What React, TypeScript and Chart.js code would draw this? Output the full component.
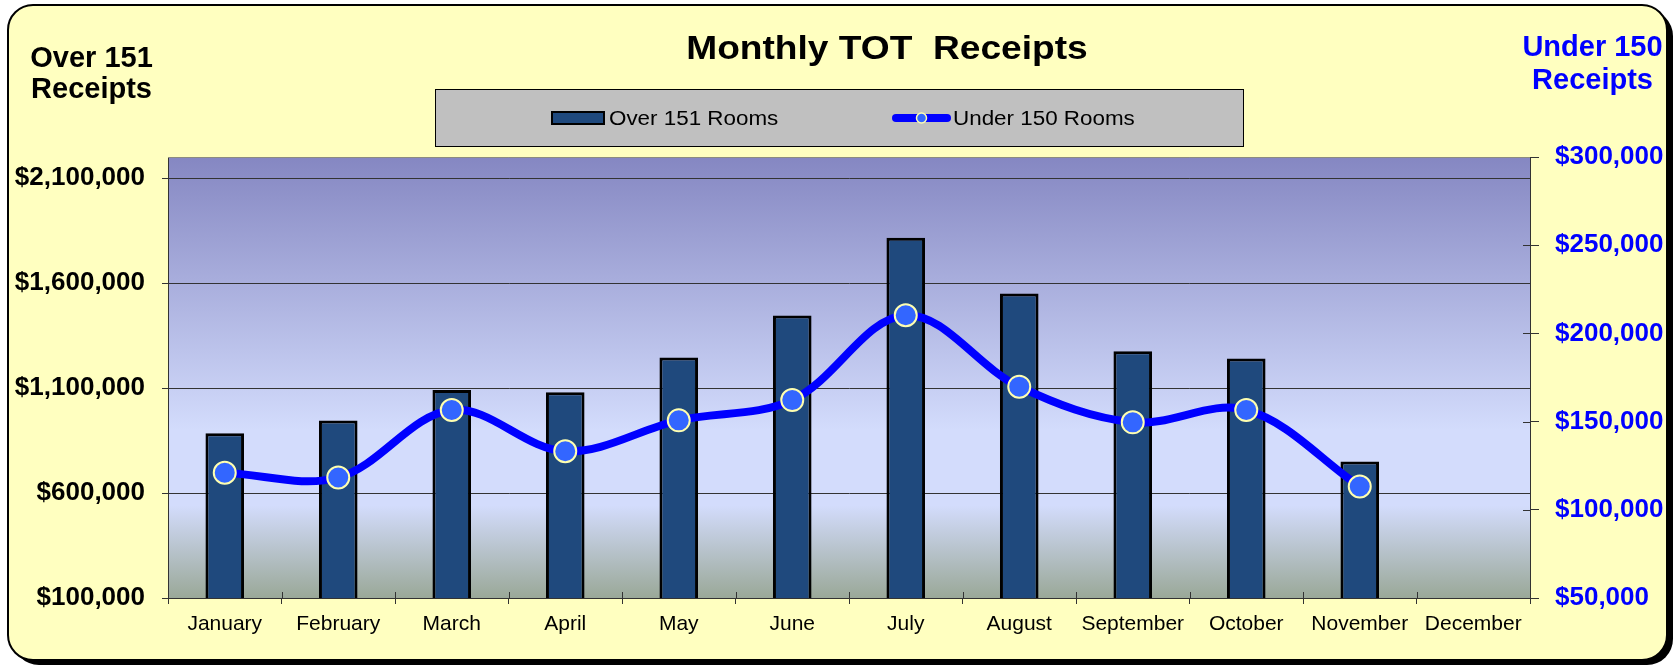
import React, { useEffect, useRef } from 'react';
import { Chart, registerables } from 'chart.js';

Chart.register(...registerables);

const months = ['January', 'February', 'March', 'April', 'May', 'June', 'July', 'August', 'September', 'October', 'November', 'December'];
const over151Receipts = [885000, 945000, 1090000, 1080000, 1245000, 1445000, 1815000, 1550000, 1275000, 1240000, 750000, null];
const under150Receipts = [121000, 118300, 156600, 133200, 150700, 162200, 210300, 169800, 149600, 156600, 113200, null];
const leftTicks = [100000, 600000, 1100000, 1600000, 2100000];
const leftRange = [100000, 2200000];
const rightRange = [50000, 300000];
const rightStep = 50000;
const seriesLabels = ['Over 151 Rooms', 'Under 150 Rooms'];
const chartTitle = 'Monthly TOT  Receipts';
const leftAxisTitle = ['Over 151', 'Receipts'];
const rightAxisTitle = ['Under 150', 'Receipts'];

const FONT = '"Liberation Sans", Arial, Helvetica, sans-serif';
const W = 1677;
const H = 666;

function drawText(ctx: CanvasRenderingContext2D, text: string, x: number, y: number, font: string, color: string, align: CanvasTextAlign, sx = 1) {
  ctx.save();
  ctx.translate(x, y);
  ctx.scale(sx, 1);
  ctx.font = font;
  ctx.fillStyle = color;
  ctx.textAlign = align;
  ctx.textBaseline = 'alphabetic';
  ctx.fillText(text, 0, 0);
  ctx.restore();
}

const fmt = (v: number) => '$' + Number(v).toLocaleString('en-US');

const decorPlugin = {
  id: 'decor',
  beforeDraw(chart: any) {
    const ctx: CanvasRenderingContext2D = chart.ctx;
    const { left, right, top, bottom } = chart.chartArea;
    ctx.save();
    // frame shadow
    ctx.fillStyle = '#000';
    ctx.beginPath();
    (ctx as any).roundRect(13, 10, 1660, 655, 26);
    ctx.fill();
    // frame
    ctx.beginPath();
    (ctx as any).roundRect(8, 5, 1659, 655, 25);
    ctx.fillStyle = '#FFFFC0';
    ctx.fill();
    ctx.lineWidth = 2;
    ctx.strokeStyle = '#000';
    ctx.stroke();

    // plot area gradient
    const g = ctx.createLinearGradient(0, top, 0, bottom);
    g.addColorStop(0, '#8587C2');
    g.addColorStop(0.62, '#D3DCFC');
    g.addColorStop(0.79, '#D3DCFC');
    g.addColorStop(1, '#9AA898');
    ctx.fillStyle = g;
    ctx.fillRect(left, top, right - left, bottom - top);

    // legend box
    ctx.fillStyle = '#C0C0C0';
    ctx.fillRect(435, 89, 808, 57);
    ctx.lineWidth = 1;
    ctx.strokeStyle = '#000';
    ctx.strokeRect(435.5, 89.5, 808, 57);

    const ds = chart.data.datasets;
    const barDs = ds[0];
    const lineDs = ds[1];
    // bar swatch
    ctx.fillStyle = barDs.backgroundColor;
    ctx.fillRect(552, 112, 52, 12);
    ctx.lineWidth = 2;
    ctx.strokeStyle = '#000';
    ctx.strokeRect(552, 112, 52, 12);
    drawText(ctx, barDs.label, 609, 124.5, `20px ${FONT}`, '#000', 'left', 1.12);
    // line swatch
    ctx.beginPath();
    ctx.lineCap = 'round';
    ctx.lineWidth = 8;
    ctx.strokeStyle = lineDs.borderColor;
    ctx.moveTo(896, 118);
    ctx.lineTo(947, 118);
    ctx.stroke();
    ctx.beginPath();
    ctx.arc(921.5, 118, 5, 0, Math.PI * 2);
    ctx.fillStyle = lineDs.pointBackgroundColor;
    ctx.fill();
    ctx.lineWidth = 1.5;
    ctx.strokeStyle = lineDs.pointBorderColor;
    ctx.stroke();
    drawText(ctx, lineDs.label, 953, 124.5, `20px ${FONT}`, '#000', 'left', 1.12);

    // titles
    drawText(ctx, chartTitle, 887, 59, `bold 33px ${FONT}`, '#000', 'center', 1.125);
    drawText(ctx, leftAxisTitle[0], 91.5, 67, `bold 29px ${FONT}`, '#000', 'center');
    drawText(ctx, leftAxisTitle[1], 91.5, 98, `bold 29px ${FONT}`, '#000', 'center');
    drawText(ctx, rightAxisTitle[0], 1592.5, 56, `bold 29px ${FONT}`, '#0000FF', 'center');
    drawText(ctx, rightAxisTitle[1], 1592.5, 89, `bold 29px ${FONT}`, '#0000FF', 'center');
    ctx.restore();
  },
  afterDraw(chart: any) {
    const ctx: CanvasRenderingContext2D = chart.ctx;
    const { left, right, top, bottom } = chart.chartArea;
    const xs = chart.scales.x;
    const y1 = chart.scales.y1;
    ctx.save();
    ctx.strokeStyle = '#333';
    ctx.lineWidth = 1;
    // inner half of x-axis cross ticks
    const n = months.length;
    for (let i = 0; i <= n; i++) {
      let px;
      if (i === 0) px = left;
      else if (i === n) px = right;
      else px = (xs.getPixelForValue(i - 1) + xs.getPixelForValue(i)) / 2;
      px = Math.round(px) + 0.5;
      ctx.beginPath();
      ctx.moveTo(px, bottom - 6);
      ctx.lineTo(px, bottom);
      ctx.stroke();
    }
    // inner half of right-axis cross ticks
    y1.ticks.forEach((t: any) => {
      const py = Math.round(y1.getPixelForValue(t.value)) + 0.5;
      ctx.beginPath();
      ctx.moveTo(right - 7, py);
      ctx.lineTo(right, py);
      ctx.stroke();
    });
    // top edge of plot area
    ctx.strokeStyle = '#8C8C80';
    ctx.beginPath();
    ctx.moveTo(left, top + 0.5);
    ctx.lineTo(right, top + 0.5);
    ctx.stroke();
    ctx.restore();
  },
};

export default function App() {
  const ref = useRef<HTMLCanvasElement | null>(null);

  useEffect(() => {
    if (!ref.current) return;
    const chart = new Chart(ref.current, {
      type: 'bar',
      data: {
        labels: months,
        datasets: [
          {
            type: 'bar',
            label: seriesLabels[0],
            data: over151Receipts,
            backgroundColor: '#1F497D',
            borderColor: '#000000',
            borderWidth: 3,
            borderSkipped: false,
            barPercentage: 0.34,
            categoryPercentage: 1,
            yAxisID: 'y',
            order: 2,
          } as any,
          {
            type: 'line',
            label: seriesLabels[1],
            data: under150Receipts,
            borderColor: '#0000FF',
            borderWidth: 8,
            tension: 0.35,
            pointRadius: 11,
            pointHoverRadius: 11,
            pointBackgroundColor: '#3366FF',
            pointBorderColor: '#FFFFB0',
            pointBorderWidth: 2,
            yAxisID: 'y1',
            order: 1,
          } as any,
        ],
      },
      options: {
        responsive: false,
        animation: false,
        devicePixelRatio: 1,
        layout: { padding: { top: 157, left: 0, right: 0, bottom: 0 } },
        plugins: {
          legend: { display: false },
          title: { display: false },
          tooltip: { enabled: false },
        },
        scales: {
          x: {
            offset: true,
            grid: { offset: true, drawOnChartArea: false, drawTicks: true, tickLength: 6, color: '#333' },
            border: { display: true, color: '#333', width: 1 },
            ticks: { color: '#000', font: { family: FONT, size: 21 }, padding: 8, maxRotation: 0, autoSkip: false },
            afterFit: (s: any) => { s.height = 68; },
          },
          y: {
            position: 'left',
            min: leftRange[0],
            max: leftRange[1],
            afterBuildTicks: (axis: any) => { axis.ticks = leftTicks.map((v) => ({ value: v })); },
            grid: { color: '#333', lineWidth: 1, tickLength: 6, drawTicks: true },
            border: { display: true, color: '#333', width: 1 },
            ticks: { color: '#000', font: { family: FONT, size: 26, weight: 'bold' }, padding: 17, callback: (v: any) => fmt(v) },
            afterFit: (s: any) => { s.width = 168; },
          },
          y1: {
            position: 'right',
            min: rightRange[0],
            max: rightRange[1],
            ticks: { stepSize: rightStep, color: '#0000FF', font: { family: FONT, size: 26, weight: 'bold' }, padding: 16, callback: (v: any) => fmt(v) },
            grid: { drawOnChartArea: false, color: '#333', tickLength: 9, drawTicks: true },
            border: { display: true, color: '#333', width: 1 },
            afterFit: (s: any) => { s.width = 147; },
          },
        },
      } as any,
      plugins: [decorPlugin as any],
    });
    return () => chart.destroy();
  }, []);

  return (
    <div style={{ position: 'fixed', left: 0, top: 0, width: W, height: H, background: '#fff' }}>
      <canvas ref={ref} width={W} height={H} style={{ width: W, height: H, display: 'block' }} />
    </div>
  );
}
